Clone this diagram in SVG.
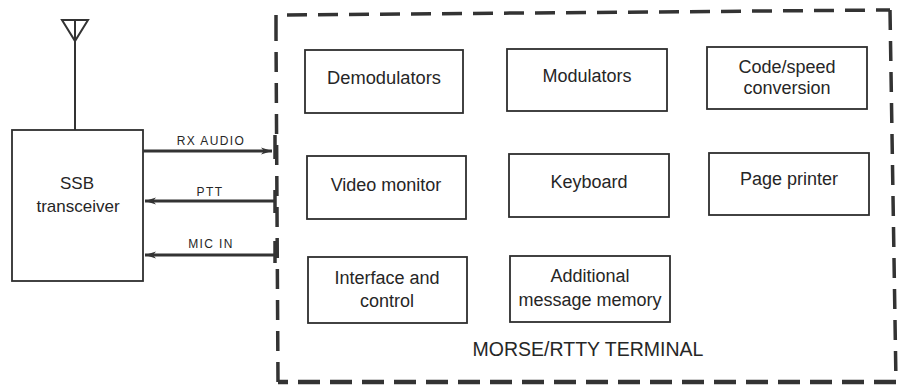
<svg xmlns="http://www.w3.org/2000/svg" width="903" height="385" viewBox="0 0 903 385">
<style>
.box{fill:none;stroke:#2e2e2e;stroke-width:1.8}
.t{font-family:"Liberation Sans",Arial,sans-serif;font-size:18px;fill:#262626;text-anchor:middle}
.lbl{font-family:"Liberation Sans",Arial,sans-serif;font-size:12px;fill:#262626;text-anchor:middle;letter-spacing:1.4px}
.dash{fill:none;stroke:#333;stroke-width:3.5;stroke-dasharray:20 11}
.conn{stroke:#333;stroke-width:3;fill:none}
.tick{stroke:#333;stroke-width:3.5}
</style>
<defs>
<marker id="ah" markerWidth="12" markerHeight="8" refX="11" refY="4" orient="auto" markerUnits="userSpaceOnUse">
<path d="M0,0.5 L11,4 L0,7.5 L3,4 Z" fill="#333"/>
</marker>
</defs>
<rect width="903" height="385" fill="#fff"/>

<g id="antenna">
<polygon points="62,20 88,20 75,41" fill="none" stroke="#333" stroke-width="2"/>
<line x1="75" y1="20" x2="75" y2="41" stroke="#333" stroke-width="2"/>
<line x1="75" y1="41" x2="75" y2="130" stroke="#333" stroke-width="2"/>
</g>

<g id="ssb">
<rect class="box" x="12" y="130" width="131" height="151"/>
<text class="t" x="77" y="189" style="font-size:17px">SSB</text>
<text class="t" x="78" y="212" style="font-size:17px">transceiver</text>
</g>

<g id="terminal">
<path class="dash" d="M276,35 L276,15 L890,10"/>
<path class="dash" d="M890,10 L896,382"/>
<path class="dash" d="M278,382 L276,35"/>
<path class="dash" d="M896,382 L278,382" style="stroke-width:4.5;stroke-dasharray:22 10"/>
<text class="t" x="588" y="356" style="font-size:19.5px">MORSE/RTTY TERMINAL</text>
</g>

<g id="demodulators">
<rect class="box" x="305" y="50" width="158" height="63"/>
<text class="t" x="384" y="84" style="font-size:18.3px">Demodulators</text>
</g>
<g id="modulators">
<rect class="box" x="507" y="49" width="160" height="62"/>
<text class="t" x="587" y="82">Modulators</text>
</g>
<g id="codespeed">
<rect class="box" x="707" y="47" width="160" height="62"/>
<text class="t" x="787" y="73">Code/speed</text>
<text class="t" x="787" y="94">conversion</text>
</g>
<g id="video">
<rect class="box" x="307" y="156" width="159" height="63"/>
<text class="t" x="386" y="191">Video monitor</text>
</g>
<g id="keyboard">
<rect class="box" x="509" y="154" width="160" height="63"/>
<text class="t" x="589" y="188">Keyboard</text>
</g>
<g id="printer">
<rect class="box" x="709" y="153" width="160" height="62"/>
<text class="t" x="789" y="185">Page printer</text>
</g>
<g id="interface">
<rect class="box" x="308" y="257" width="159" height="66"/>
<text class="t" x="387" y="284">Interface and</text>
<text class="t" x="387" y="307">control</text>
</g>
<g id="memory">
<rect class="box" x="510" y="256" width="160" height="66"/>
<text class="t" x="590" y="282">Additional</text>
<text class="t" x="590" y="306">message memory</text>
</g>

<g id="connectors">
<line class="tick" x1="275" y1="135" x2="275" y2="159"/>
<line class="tick" x1="275" y1="190" x2="275" y2="213"/>
<line class="tick" x1="275" y1="241" x2="275" y2="263"/>
<line class="conn" x1="143" y1="151" x2="272" y2="151" marker-end="url(#ah)"/>
<line class="conn" x1="275" y1="201" x2="145" y2="201" marker-end="url(#ah)"/>
<line class="conn" x1="275" y1="255" x2="145" y2="255" marker-end="url(#ah)"/>
<text class="lbl" x="211" y="145">RX AUDIO</text>
<text class="lbl" x="210" y="196">PTT</text>
<text class="lbl" x="211" y="248">MIC IN</text>
</g>
</svg>
